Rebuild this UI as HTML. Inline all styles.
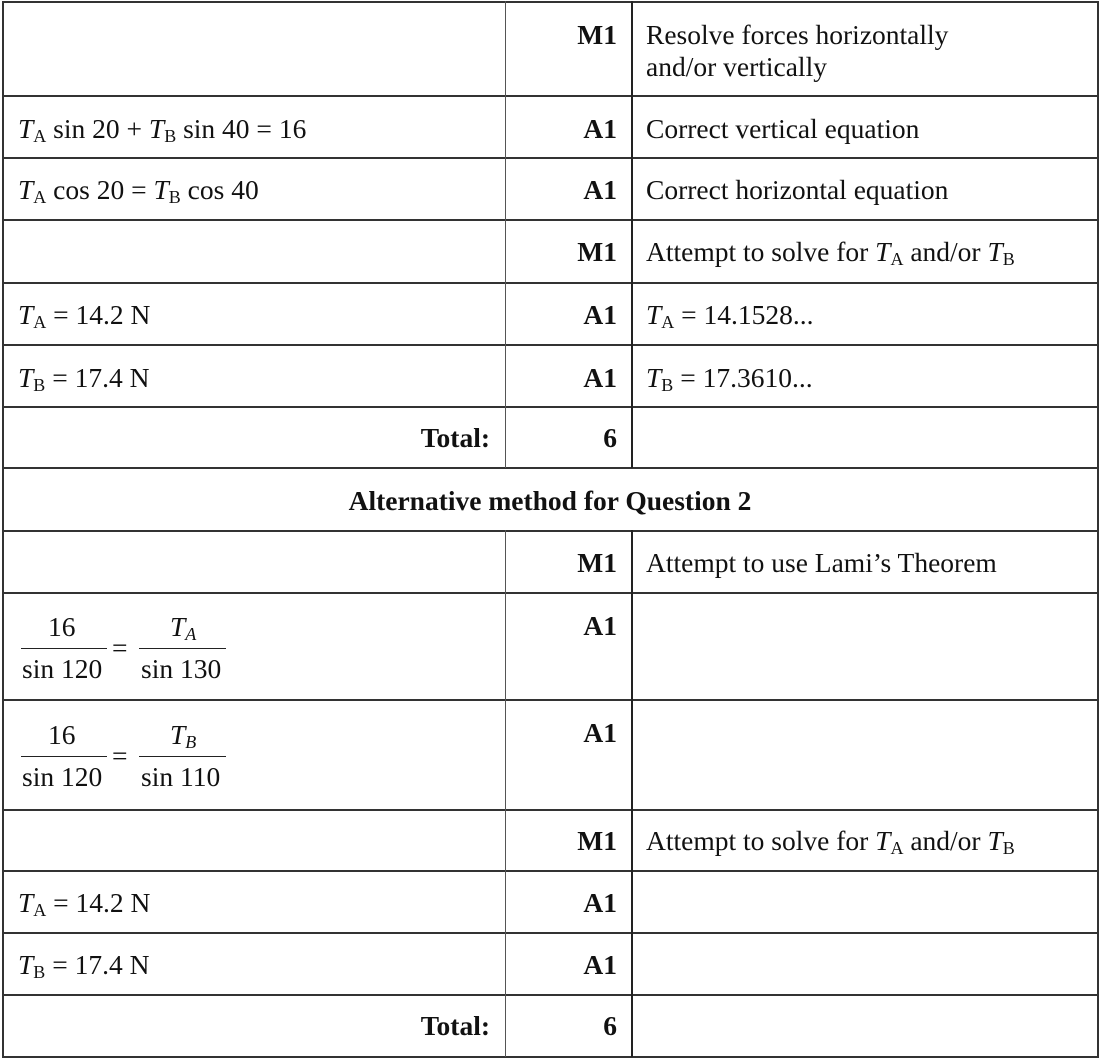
<!DOCTYPE html>
<html><head><meta charset="utf-8"><style>
body{margin:0;width:1100px;height:1060px;background:#fff;position:relative;overflow:hidden;font-family:"Liberation Serif",serif;font-size:27.5px;color:#111}
.h{position:absolute;left:2px;width:1096px;height:2px;background:#333}
.v{position:absolute;width:1px;background:#555}
.t{position:absolute;line-height:30px;white-space:nowrap}
.r{text-align:right}
.b{font-weight:bold}
i{font-style:italic}
sub{font-size:18px;vertical-align:-4px;line-height:0}
.fr{position:absolute;height:1px;background:#222}
</style></head><body>
<div class="h" style="top:1px"></div>
<div class="h" style="top:95px"></div>
<div class="h" style="top:157px"></div>
<div class="h" style="top:219px"></div>
<div class="h" style="top:282px"></div>
<div class="h" style="top:344px"></div>
<div class="h" style="top:406px"></div>
<div class="h" style="top:467px"></div>
<div class="h" style="top:530px"></div>
<div class="h" style="top:592px"></div>
<div class="h" style="top:699px"></div>
<div class="h" style="top:809px"></div>
<div class="h" style="top:870px"></div>
<div class="h" style="top:932px"></div>
<div class="h" style="top:994px"></div>
<div class="h" style="top:1056px"></div>
<div class="v" style="left:2px;top:1px;height:1057px;width:2px;background:#333"></div>
<div class="v" style="left:1097px;top:1px;height:1057px;width:2px;background:#333"></div>
<div class="v" style="left:505px;top:1px;height:467px"></div>
<div class="v" style="left:631px;top:1px;height:467px;width:2px;background:#222"></div>
<div class="v" style="left:505px;top:530px;height:527px"></div>
<div class="v" style="left:631px;top:530px;height:527px;width:2px;background:#222"></div>

<div class="t b r" style="left:505px;width:112px;top:20px">M1</div>
<div class="t" style="left:646px;top:20px">Resolve forces horizontally</div>
<div class="t" style="left:646px;top:52px">and/or vertically</div>

<div class="t" style="left:18px;top:114px"><i>T</i><sub>A</sub> sin 20 + <i>T</i><sub>B</sub> sin 40 = 16</div>
<div class="t b r" style="left:505px;width:112px;top:114px">A1</div>
<div class="t" style="left:646px;top:114px">Correct vertical equation</div>

<div class="t" style="left:18px;top:175px"><i>T</i><sub>A</sub> cos 20 = <i>T</i><sub>B</sub> cos 40</div>
<div class="t b r" style="left:505px;width:112px;top:175px">A1</div>
<div class="t" style="left:646px;top:175px">Correct horizontal equation</div>

<div class="t b r" style="left:505px;width:112px;top:237px">M1</div>
<div class="t" style="left:646px;top:237px">Attempt to solve for <i>T</i><sub>A</sub> and/or <i>T</i><sub>B</sub></div>

<div class="t" style="left:18px;top:300px"><i>T</i><sub>A</sub> = 14.2 N</div>
<div class="t b r" style="left:505px;width:112px;top:300px">A1</div>
<div class="t" style="left:646px;top:300px"><i>T</i><sub>A</sub> = 14.1528...</div>

<div class="t" style="left:18px;top:363px"><i>T</i><sub>B</sub> = 17.4 N</div>
<div class="t b r" style="left:505px;width:112px;top:363px">A1</div>
<div class="t" style="left:646px;top:363px"><i>T</i><sub>B</sub> = 17.3610...</div>

<div class="t b r" style="left:300px;width:190px;top:423px">Total:</div>
<div class="t b r" style="left:505px;width:112px;top:423px">6</div>

<div class="t b" style="left:0;width:1100px;text-align:center;top:486px">Alternative method for Question 2</div>

<div class="t b r" style="left:505px;width:112px;top:548px">M1</div>
<div class="t" style="left:646px;top:548px">Attempt to use Lami’s Theorem</div>

<div class="t" style="left:48px;top:612px">16</div>
<div class="fr" style="left:21px;top:648px;width:86px"></div>
<div class="t" style="left:22px;top:654px">sin 120</div>
<div class="t" style="left:112px;top:633px">=</div>
<div class="t" style="left:170px;top:612px"><i>T</i><sub><i>A</i></sub></div>
<div class="fr" style="left:139px;top:648px;width:87px"></div>
<div class="t" style="left:141px;top:654px">sin 130</div>
<div class="t b r" style="left:505px;width:112px;top:611px">A1</div>

<div class="t" style="left:48px;top:720px">16</div>
<div class="fr" style="left:21px;top:756px;width:86px"></div>
<div class="t" style="left:22px;top:762px">sin 120</div>
<div class="t" style="left:112px;top:741px">=</div>
<div class="t" style="left:170px;top:720px"><i>T</i><sub><i>B</i></sub></div>
<div class="fr" style="left:139px;top:756px;width:87px"></div>
<div class="t" style="left:141px;top:762px">sin 110</div>
<div class="t b r" style="left:505px;width:112px;top:718px">A1</div>

<div class="t b r" style="left:505px;width:112px;top:826px">M1</div>
<div class="t" style="left:646px;top:826px">Attempt to solve for <i>T</i><sub>A</sub> and/or <i>T</i><sub>B</sub></div>

<div class="t" style="left:18px;top:888px"><i>T</i><sub>A</sub> = 14.2 N</div>
<div class="t b r" style="left:505px;width:112px;top:888px">A1</div>

<div class="t" style="left:18px;top:950px"><i>T</i><sub>B</sub> = 17.4 N</div>
<div class="t b r" style="left:505px;width:112px;top:950px">A1</div>

<div class="t b r" style="left:300px;width:190px;top:1011px">Total:</div>
<div class="t b r" style="left:505px;width:112px;top:1011px">6</div>
</body></html>
